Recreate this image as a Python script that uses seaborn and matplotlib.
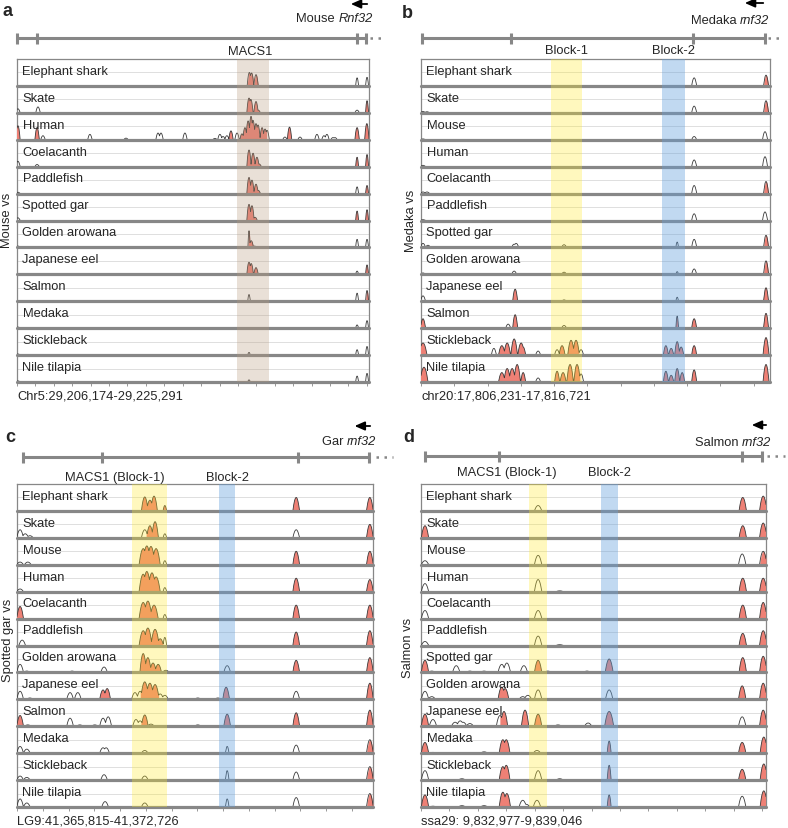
import numpy as np
import matplotlib
matplotlib.use("Agg")
import matplotlib.pyplot as plt
import matplotlib.transforms as mtrans
import seaborn as sns

# ---- data (positions in kb from window start, heights as fraction of a track) ----
# peak tuple: (position_kb, height, conserved[, half_width_kb])

A_SPECIES = ["Elephant shark", "Skate", "Human", "Coelacanth", "Paddlefish", "Spotted gar",
             "Golden arowana", "Japanese eel", "Salmon", "Medaka", "Stickleback", "Nile tilapia"]
A_LEN, A_STEP, A_WIDTH = 19.117, 1.0, 0.12
A_BANDS = [(11.95, 13.69, "brown")]
A_BLOCKS = [(12.65, "MACS1")]
A_GENE_TICKS = [0.0, 1.09, 18.47, 18.95]
A_GENE_DOTS = [19.17, 19.88]
A_ARROW = [19.17, 17.98]
A_GENE = ("Mouse", "Rnf32", 19.33)
A_COORD = "Chr5:29,206,174-29,225,291"
A_YLABEL = "Mouse vs"
A_PEAKS = [
    [(12.62, 0.5, 1), (12.74, 0.48, 1), (12.98, 0.42, 1), (18.47, 0.3, 0, 0.08), (19.01, 0.32, 0, 0.08)],
    [(0.05, 0.15, 0), (1.14, 0.22, 0), (12.6, 0.55, 1), (12.7, 0.5, 1), (12.98, 0.42, 1), (13.1, 0.1, 1),
     (18.47, 0.1, 0), (19.01, 0.45, 1, 0.08)],
    [(0.05, 0.52, 1), (1.09, 0.45, 1), (1.41, 0.15, 0), (3.96, 0.2, 0), (5.92, 0.06, 0), (7.66, 0.25, 0),
     (7.82, 0.25, 0), (9.12, 0.25, 0), (10.75, 0.05, 0), (11.02, 0.2, 0), (11.19, 0.12, 0), (11.4, 0.15, 0),
     (11.62, 0.33, 1), (11.95, 0.25, 0), (12.22, 0.22, 1), (12.38, 0.45, 1), (12.55, 0.7, 1), (12.71, 0.87, 1),
     (12.82, 0.72, 1), (12.98, 0.6, 1), (13.09, 0.55, 1), (13.31, 0.45, 1), (13.47, 0.4, 1), (13.58, 0.35, 0),
     (14.55, 0.1, 0), (14.8, 0.47, 1), (15.37, 0.1, 0), (16.29, 0.2, 0), (16.67, 0.15, 0), (16.83, 0.2, 0),
     (17.16, 0.08, 0), (17.27, 0.08, 0), (18.47, 0.45, 1), (19.0, 0.6, 1)],
    [(0.05, 0.2, 0), (1.09, 0.08, 0), (12.6, 0.62, 1), (12.82, 0.5, 1), (13.03, 0.35, 1), (13.15, 0.1, 1),
     (18.47, 0.35, 1, 0.08), (19.01, 0.45, 1, 0.08)],
    [(0.05, 0.05, 0), (12.6, 0.6, 1), (12.76, 0.5, 1), (12.98, 0.35, 1), (13.1, 0.12, 1),
     (18.47, 0.25, 0, 0.08), (19.01, 0.3, 1, 0.08)],
    [(0.05, 0.1, 0), (12.6, 0.6, 1), (12.76, 0.55, 1), (12.93, 0.12, 1),
     (18.47, 0.35, 1, 0.08), (19.01, 0.4, 1, 0.08)],
    [(0.05, 0.05, 0), (12.6, 0.62, 1, 0.06), (12.72, 0.25, 1), (12.9, 0.05, 0),
     (18.47, 0.3, 0, 0.08), (19.01, 0.3, 0, 0.08)],
    [(12.6, 0.45, 1), (12.72, 0.4, 1), (12.98, 0.25, 1), (18.47, 0.12, 0, 0.08), (19.01, 0.35, 1, 0.08)],
    [(12.6, 0.25, 0, 0.07), (18.47, 0.3, 0, 0.08), (19.01, 0.4, 1, 0.08)],
    [(0.05, 0.04, 0), (18.47, 0.12, 0, 0.08), (19.01, 0.28, 0, 0.08)],
    [(0.05, 0.04, 0), (12.6, 0.1, 0, 0.07), (18.47, 0.2, 0, 0.08), (19.01, 0.32, 0, 0.08)],
    [(0.05, 0.04, 0), (12.6, 0.08, 0, 0.07), (18.47, 0.22, 0, 0.08), (19.01, 0.32, 0, 0.08)],
]

B_SPECIES = ["Elephant shark", "Skate", "Mouse", "Human", "Coelacanth", "Paddlefish", "Spotted gar",
             "Golden arowana", "Japanese eel", "Salmon", "Stickleback", "Nile tilapia"]
B_LEN, B_STEP, B_WIDTH = 10.49, 1.0, 0.075
B_BANDS = [(3.91, 4.84, "yellow"), (7.24, 7.94, "blue")]
B_BLOCKS = [(4.36, "Block-1"), (7.58, "Block-2")]
B_GENE_TICKS = [0.03, 2.71, 8.18, 10.34]
B_GENE_DOTS = [10.43, 10.85]
B_ARROW = [10.37, 9.65]
B_GENE = ("Medaka", "rnf32", 10.46)
B_COORD = "chr20:17,806,231-17,816,721"
B_YLABEL = "Medaka vs"
B_PEAKS = [
    [(8.21, 0.3, 0), (10.37, 0.4, 1)],
    [(0.06, 0.05, 0), (0.18, 0.04, 0), (8.21, 0.25, 0), (10.37, 0.45, 1)],
    [(0.06, 0.03, 0), (8.21, 0.12, 0), (10.34, 0.3, 0)],
    [(0.06, 0.05, 0), (8.21, 0.25, 0), (10.34, 0.37, 0)],
    [(0.06, 0.06, 0), (0.18, 0.06, 0), (8.21, 0.3, 0), (10.37, 0.45, 1)],
    [(0.06, 0.03, 0), (8.21, 0.25, 0), (10.34, 0.32, 0)],
    [(0.06, 0.15, 0), (0.21, 0.08, 0), (2.8, 0.12, 0), (2.86, 0.15, 0), (4.3, 0.1, 0),
     (7.7, 0.2, 0, 0.04), (8.21, 0.3, 0), (10.37, 0.45, 1)],
    [(0.06, 0.05, 0), (2.8, 0.12, 0), (4.3, 0.08, 0), (7.7, 0.1, 0, 0.04), (8.21, 0.2, 0), (10.37, 0.5, 1)],
    [(0.06, 0.2, 0), (2.83, 0.45, 1), (4.3, 0.05, 0), (7.7, 0.15, 0, 0.04), (10.37, 0.5, 1)],
    [(0.06, 0.35, 1), (2.62, 0.15, 0), (2.83, 0.5, 1), (4.3, 0.1, 0), (7.7, 0.45, 1, 0.04),
     (8.21, 0.35, 1), (10.37, 0.55, 1)],
    [(0.06, 0.45, 1, 0.12), (2.19, 0.25, 0), (2.43, 0.35, 1, 0.1), (2.59, 0.45, 1, 0.1), (2.8, 0.6, 1, 0.1),
     (3.01, 0.45, 1, 0.1), (3.07, 0.3, 1), (3.52, 0.15, 0), (4.09, 0.2, 0), (4.24, 0.35, 1, 0.09),
     (4.51, 0.55, 1, 0.1), (4.66, 0.55, 1, 0.1), (4.81, 0.2, 0), (7.36, 0.35, 1), (7.52, 0.25, 1),
     (7.7, 0.5, 1), (7.82, 0.3, 1), (8.21, 0.35, 1), (10.37, 0.65, 1, 0.09)],
    [(0.09, 0.55, 1, 0.12), (2.43, 0.35, 1, 0.1), (2.59, 0.5, 1, 0.1), (2.74, 0.5, 1, 0.1),
     (2.89, 0.65, 1, 0.1), (3.07, 0.35, 1), (3.52, 0.15, 0), (4.09, 0.4, 1), (4.27, 0.35, 1, 0.09),
     (4.48, 0.65, 1, 0.1), (4.69, 0.65, 1, 0.1), (4.81, 0.3, 0), (7.36, 0.4, 1), (7.52, 0.25, 1),
     (7.7, 0.5, 1), (7.85, 0.35, 1), (8.21, 0.45, 1), (10.37, 0.65, 1, 0.09)],
]

C_SPECIES = ["Elephant shark", "Skate", "Mouse", "Human", "Coelacanth", "Paddlefish", "Golden arowana",
             "Japanese eel", "Salmon", "Medaka", "Stickleback", "Nile tilapia"]
C_LEN, C_STEP, C_WIDTH = 6.911, 0.5, 0.065
C_BANDS = [(2.23, 2.91, "yellow"), (3.92, 4.23, "blue")]
C_BLOCKS = [(1.9, "MACS1 (Block-1)"), (4.08, "Block-2")]
C_GENE_TICKS = [0.12, 1.65, 5.45, 6.83]
C_GENE_DOTS = [6.97, 7.3]
C_ARROW = [6.91, 6.5]
C_GENE = ("Gar", "rnf32", 6.97)
C_COORD = "LG9:41,365,815-41,372,726"
C_YLABEL = "Spotted gar vs"
C_PEAKS = [
    [(2.48, 0.52, 1), (2.58, 0.4, 1), (2.66, 0.55, 1), (2.87, 0.2, 1, 0.035), (5.42, 0.5, 1), (6.85, 0.5, 1)],
    [(0.06, 0.3, 0), (0.16, 0.15, 0), (0.25, 0.08, 0), (2.48, 0.3, 0), (2.58, 0.45, 1), (2.68, 0.6, 1),
     (2.87, 0.15, 0, 0.035), (5.42, 0.3, 0), (6.85, 0.5, 1)],
    [(0.06, 0.1, 0), (0.21, 0.1, 0), (2.45, 0.6, 1, 0.08), (2.52, 0.7, 1, 0.08), (2.6, 0.68, 1, 0.08),
     (2.7, 0.6, 1, 0.08), (2.87, 0.15, 0, 0.035), (5.42, 0.5, 1), (6.85, 0.5, 1)],
    [(0.06, 0.1, 0), (2.45, 0.65, 1, 0.08), (2.52, 0.75, 1, 0.08), (2.62, 0.7, 1, 0.08), (2.7, 0.55, 1, 0.08),
     (2.87, 0.15, 0, 0.035), (5.42, 0.5, 1), (6.85, 0.45, 1)],
    [(0.06, 0.45, 1), (2.45, 0.6, 1, 0.08), (2.54, 0.65, 1, 0.08), (2.66, 0.5, 1, 0.08), (2.87, 0.15, 0, 0.035),
     (5.42, 0.5, 1), (6.85, 0.5, 1)],
    [(0.1, 0.2, 0), (2.45, 0.55, 1, 0.08), (2.54, 0.65, 1, 0.08), (2.68, 0.6, 1, 0.08), (2.78, 0.25, 1),
     (2.87, 0.3, 0, 0.035), (5.42, 0.5, 1), (6.85, 0.55, 1)],
    [(0.06, 0.3, 0), (0.19, 0.05, 0), (1.07, 0.05, 0), (1.69, 0.2, 0), (2.45, 0.7, 1), (2.54, 0.55, 1),
     (2.64, 0.35, 1), (2.74, 0.3, 1), (2.89, 0.08, 0), (4.08, 0.25, 0), (5.42, 0.45, 1), (6.85, 0.55, 1)],
    [(0.06, 0.3, 0), (0.25, 0.05, 0), (1.03, 0.25, 0), (1.18, 0.25, 0), (1.67, 0.35, 1), (1.75, 0.4, 1),
     (2.29, 0.25, 0), (2.39, 0.3, 0), (2.48, 0.65, 1, 0.08), (2.58, 0.6, 1, 0.08), (2.68, 0.55, 1, 0.08),
     (2.78, 0.2, 0), (2.87, 0.15, 0), (3.51, 0.05, 0), (3.9, 0.05, 0), (4.06, 0.45, 1), (5.42, 0.3, 0),
     (6.85, 0.6, 1)],
    [(0.06, 0.4, 1), (0.21, 0.05, 0), (1.03, 0.3, 0), (1.22, 0.05, 0), (1.51, 0.05, 0), (1.67, 0.3, 0),
     (1.77, 0.35, 0), (2.31, 0.25, 0), (2.39, 0.2, 0), (2.48, 0.42, 1), (2.6, 0.08, 0), (3.51, 0.05, 0),
     (4.08, 0.45, 1), (5.42, 0.5, 1), (6.85, 0.6, 1)],
    [(0.06, 0.25, 0), (0.19, 0.15, 0), (1.67, 0.2, 0), (1.73, 0.2, 0), (2.48, 0.1, 0),
     (4.08, 0.25, 0, 0.035), (5.42, 0.3, 0), (6.85, 0.5, 1)],
    [(0.06, 0.15, 0), (0.19, 0.1, 0), (1.69, 0.2, 0), (2.48, 0.15, 0), (4.08, 0.35, 0, 0.035),
     (5.42, 0.3, 0), (6.85, 0.5, 1)],
    [(0.06, 0.3, 0), (0.19, 0.15, 0), (1.71, 0.2, 0), (2.48, 0.15, 0), (4.08, 0.3, 0, 0.035),
     (5.42, 0.35, 0), (6.85, 0.5, 1)],
]

D_SPECIES = ["Elephant shark", "Skate", "Mouse", "Human", "Coelacanth", "Paddlefish", "Spotted gar",
             "Golden arowana", "Japanese eel", "Medaka", "Stickleback", "Nile tilapia"]
D_LEN, D_STEP, D_WIDTH = 6.069, 0.5, 0.065
D_BANDS = [(1.9, 2.22, "yellow"), (3.17, 3.47, "blue")]
D_BLOCKS = [(1.51, "MACS1 (Block-1)"), (3.31, "Block-2")]
D_GENE_TICKS = [0.07, 1.37, 5.65, 6.0]
D_GENE_DOTS = [6.09, 6.4]
D_ARROW = [6.12, 5.77]
D_GENE = ("Salmon", "rnf32", 6.16)
D_COORD = "ssa29: 9,832,977-9,839,046"
D_YLABEL = "Salmon vs"
D_PEAKS = [
    [(2.06, 0.2, 0), (5.66, 0.5, 1), (6.02, 0.55, 1)],
    [(0.07, 0.45, 1), (5.66, 0.45, 1), (6.02, 0.55, 1)],
    [(0.07, 0.15, 0), (2.06, 0.35, 0), (5.65, 0.4, 0), (6.02, 0.5, 1)],
    [(0.07, 0.3, 0), (2.06, 0.45, 0), (2.44, 0.03, 0), (5.66, 0.5, 1), (6.02, 0.5, 1)],
    [(0.07, 0.3, 0), (2.06, 0.3, 0), (5.66, 0.5, 1), (6.02, 0.6, 1)],
    [(0.07, 0.15, 0), (2.06, 0.35, 0), (2.44, 0.03, 0), (5.66, 0.45, 1), (6.02, 0.55, 1)],
    [(0.07, 0.45, 1), (0.19, 0.05, 0), (0.62, 0.25, 0), (0.86, 0.05, 0), (1.11, 0.05, 0), (1.42, 0.3, 0),
     (1.51, 0.35, 0), (1.81, 0.25, 0), (2.06, 0.45, 1), (2.23, 0.05, 0), (2.92, 0.05, 0),
     (3.31, 0.5, 1, 0.07), (5.66, 0.55, 1), (6.02, 0.6, 1)],
    [(0.07, 0.3, 0), (0.19, 0.1, 0), (1.42, 0.45, 1), (1.48, 0.4, 1), (1.79, 0.1, 0), (1.88, 0.15, 0),
     (2.06, 0.35, 0), (3.31, 0.35, 0), (5.65, 0.5, 1), (6.02, 0.6, 1)],
    [(0.07, 0.45, 1), (0.21, 0.25, 0), (0.6, 0.15, 0), (0.69, 0.2, 0), (0.74, 0.15, 0), (0.86, 0.1, 0),
     (1.39, 0.4, 0), (1.46, 0.55, 1), (1.83, 0.6, 1), (2.06, 0.45, 1), (2.41, 0.05, 0), (2.55, 0.03, 0),
     (2.94, 0.12, 0), (3.31, 0.55, 1, 0.08), (3.64, 0.03, 0), (5.65, 0.35, 0), (6.02, 0.6, 1)],
    [(0.07, 0.4, 1), (0.21, 0.03, 0), (1.11, 0.05, 0), (1.44, 0.5, 1), (1.5, 0.5, 1), (2.04, 0.1, 0),
     (3.31, 0.45, 1, 0.035), (5.65, 0.4, 1), (6.03, 0.6, 1)],
    [(0.07, 0.35, 0), (0.72, 0.05, 0), (1.44, 0.5, 1), (1.5, 0.55, 1), (2.06, 0.35, 0), (2.44, 0.05, 0),
     (3.31, 0.55, 1, 0.035), (5.65, 0.4, 1), (6.03, 0.6, 1)],
    [(0.07, 0.45, 1), (0.21, 0.03, 0), (0.72, 0.05, 0), (1.11, 0.05, 0), (1.44, 0.55, 1), (1.51, 0.5, 1),
     (1.79, 0.25, 0), (1.85, 0.1, 0), (2.04, 0.25, 0), (3.31, 0.45, 1, 0.035), (5.65, 0.4, 0), (6.03, 0.6, 1)],
]

# ---- style ----
sns.set_theme(style="white")
plt.rcParams["font.family"] = ["Liberation Sans", "DejaVu Sans"]

PINK = "#ee8075"
GRAY = "#878787"
BAND_COLORS = {"brown": ("#b89a7c", 0.3), "yellow": ("#ffeb28", 0.3), "blue": ("#64a0dc", 0.4)}
FS = 9.3
W, H = 788, 829

# layout in pixels: box (x0, y0, x1, y1), header offsets above box top
# (gene line, block labels, gene name, arrow), panel letter, y-label pos
PANELS = [
    dict(letter="a", box=(17, 60, 369, 383), hdr=(21, 8, 41, 55), lpos=(8, 12), ypos=(7, 220),
         species=A_SPECIES, peaks=A_PEAKS, length=A_LEN, step=A_STEP, width=A_WIDTH, bands=A_BANDS,
         blocks=A_BLOCKS, gticks=A_GENE_TICKS, gdots=A_GENE_DOTS, arrow=A_ARROW, gene=A_GENE,
         coord=A_COORD, ylabel=A_YLABEL),
    dict(letter="b", box=(421, 60, 770, 383), hdr=(21, 9, 39, 56), lpos=(407, 13), ypos=(411, 221),
         species=B_SPECIES, peaks=B_PEAKS, length=B_LEN, step=B_STEP, width=B_WIDTH, bands=B_BANDS,
         blocks=B_BLOCKS, gticks=B_GENE_TICKS, gdots=B_GENE_DOTS, arrow=B_ARROW, gene=B_GENE,
         coord=B_COORD, ylabel=B_YLABEL),
    dict(letter="c", box=(17, 485, 373, 808), hdr=(27, 7, 43, 58), lpos=(10, 438), ypos=(8, 640),
         species=C_SPECIES, peaks=C_PEAKS, length=C_LEN, step=C_STEP, width=C_WIDTH, bands=C_BANDS,
         blocks=C_BLOCKS, gticks=C_GENE_TICKS, gdots=C_GENE_DOTS, arrow=C_ARROW, gene=C_GENE,
         coord=C_COORD, ylabel=C_YLABEL),
    dict(letter="d", box=(421, 485, 766, 808), hdr=(28, 12, 42, 59), lpos=(409, 437), ypos=(408, 648),
         species=D_SPECIES, peaks=D_PEAKS, length=D_LEN, step=D_STEP, width=D_WIDTH, bands=D_BANDS,
         blocks=D_BLOCKS, gticks=D_GENE_TICKS, gdots=D_GENE_DOTS, arrow=D_ARROW, gene=D_GENE,
         coord=D_COORD, ylabel=D_YLABEL),
]

fig = plt.figure(figsize=(W / 100, H / 100), dpi=100, facecolor="white")

for p in PANELS:
    x0, y0, x1, y1 = p["box"]
    ax = fig.add_axes([x0 / W, 1 - y1 / H, (x1 - x0) / W, (y1 - y0) / H])
    n = len(p["species"])
    L = p["length"]
    ax.set_xlim(0, L)
    ax.set_ylim(0, n)
    xs = np.linspace(0, L, 3000)
    lab_tr = mtrans.blended_transform_factory(ax.transAxes, ax.transData)

    for i, (name, plist) in enumerate(zip(p["species"], p["peaks"])):
        base = n - 1 - i
        curve = np.zeros_like(xs)
        pink = np.zeros_like(xs, dtype=bool)
        for pk in plist:
            c, h, cons = pk[:3]
            w = pk[3] if len(pk) > 3 else p["width"]
            shape = h * np.clip(1 - ((xs - c) / w) ** 2, 0, None)
            curve = np.maximum(curve, shape)
            if cons:
                pink |= shape > 0
        ax.axhline(base + 0.5, color="#d9d9d9", lw=0.6, zorder=1)
        ax.fill_between(xs, base, base + curve, where=curve > 0, color="white", lw=0, zorder=2)
        ax.fill_between(xs, base, base + curve, where=pink, color=PINK, lw=0, zorder=3)
        sns.lineplot(x=xs, y=base + curve, ax=ax, color="#3a3a3a", lw=0.6, zorder=4)
        ax.axhline(base, color=GRAY, lw=2.3, zorder=5, clip_on=False)
        ax.text(5.5 / (x1 - x0), base + 0.45, name, transform=lab_tr, fontsize=FS,
                va="baseline", ha="left", zorder=8)

    for lo, hi, cname in p["bands"]:
        col, alpha = BAND_COLORS[cname]
        ax.axvspan(lo, hi, color=col, alpha=alpha, lw=0, zorder=6)

    ax.set_xticks(np.arange(0, L + 1e-9, p["step"]))
    ax.set_yticks([])
    ax.tick_params(axis="x", bottom=True, direction="out", length=3, width=0.6,
                   color=GRAY, labelbottom=False)
    for s in ax.spines.values():
        s.set_visible(True)
        s.set_color(GRAY)
        s.set_linewidth(0.9)
    ax.set_xlabel("")
    ax.set_ylabel("")

    # header with gene structure
    gy, by, ty, ay = p["hdr"]
    hax = fig.add_axes([x0 / W, 1 - y0 / H, (x1 - x0) / W, 62 / H], sharex=ax)
    hax.set_ylim(0, 62)
    hax.axis("off")
    g = p["gticks"]
    hax.plot([g[0], g[-1]], [gy, gy], color=GRAY, lw=2.2, solid_capstyle="butt", clip_on=False)
    for t in g:
        hax.plot([t, t], [gy - 5.5, gy + 5.5], color=GRAY, lw=2.2, solid_capstyle="butt", clip_on=False)
    hax.plot(p["gdots"], [gy, gy], color=GRAY, lw=1.8, linestyle=(0, (1, 2.2)), clip_on=False)
    hax.annotate("", xy=(p["arrow"][1], ay), xytext=(p["arrow"][0], ay), annotation_clip=False,
                 arrowprops=dict(arrowstyle="-|>,head_length=0.5,head_width=0.22", color="black", lw=1.3))
    sp, gene, gx = p["gene"]
    gtxt = hax.text(gx, ty, gene, ha="right", va="center", fontsize=FS, style="italic", clip_on=False)
    hax.annotate(sp + " ", xy=(0, 0.5), xycoords=gtxt, ha="right", va="center", fontsize=FS,
                 annotation_clip=False)
    for bx, bt in p["blocks"]:
        hax.text(bx, by, bt, ha="center", va="center", fontsize=FS)

    fig.text(x0 / W, 1 - (y1 + 14) / H, p["coord"], ha="left", va="center", fontsize=FS)
    fig.text(p["ypos"][0] / W, 1 - p["ypos"][1] / H, p["ylabel"], rotation=90,
             ha="center", va="center", fontsize=FS)
    fig.text(p["lpos"][0] / W, 1 - p["lpos"][1] / H, p["letter"], ha="center", va="center",
             fontsize=13, fontweight="bold")

fig.savefig("out.png", dpi=100, facecolor="white")
